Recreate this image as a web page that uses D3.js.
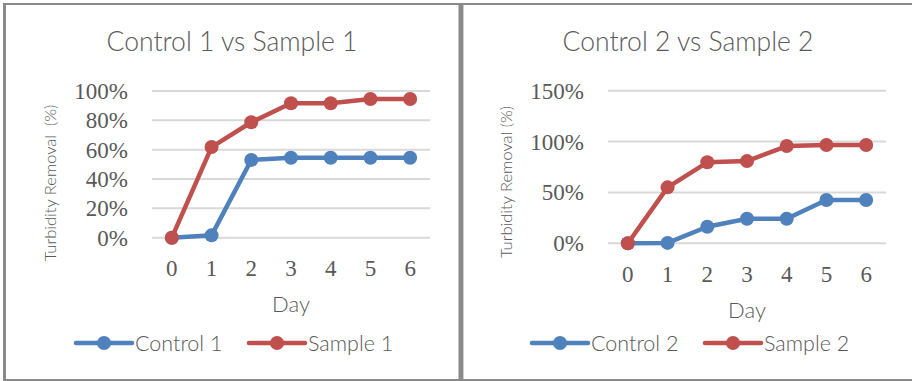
<!DOCTYPE html>
<html><head><meta charset="utf-8">
<script src="https://cdn.jsdelivr.net/npm/d3@7"></script>
<style>body{margin:0;background:#fff}svg{display:block}</style>
</head><body>
<script>
const days = [0,1,2,3,4,5,6];
const control1 = [0, 0.016, 0.53, 0.545, 0.545, 0.545, 0.545];
const sample1  = [0, 0.618, 0.787, 0.916, 0.916, 0.945, 0.945];
const control2 = [0, 0.004, 0.163, 0.242, 0.242, 0.425, 0.425];
const sample2  = [0, 0.55, 0.796, 0.808, 0.956, 0.966, 0.966];
const ticks1 = [0,0.2,0.4,0.6,0.8,1.0];
const ticks2 = [0,0.5,1.0,1.5];
const titles = ["Control 1 vs Sample 1","Control 2 vs Sample 2"];
const yLabels = ["Turbidity Removal  (%)","Turbidity Removal (%)"];
const legendNames = [["Control 1","Sample 1"],["Control 2","Sample 2"]];
const xLabel = "Day";

const W=912,H=381;
const svg=d3.select("body").append("svg").attr("width",W).attr("height",H);
const blue="#4F81BD", red="#C0504D", txt="#595959", grid="#D9D9D9", frame="#8A8A8A";

// frame
svg.append("line").attr("x1",3).attr("x2",W).attr("y1",4).attr("y2",4).attr("stroke",frame).attr("stroke-width",2);
svg.append("line").attr("x1",4.5).attr("x2",4.5).attr("y1",3).attr("y2",381).attr("stroke",frame).attr("stroke-width",3);
svg.append("line").attr("x1",3).attr("x2",W).attr("y1",380).attr("y2",380).attr("stroke",frame).attr("stroke-width",2);
svg.append("rect").attr("x",458.5).attr("y",3).attr("width",4.5).attr("height",378).attr("fill",frame);
svg.append("line").attr("x1",463.5).attr("x2",463.5).attr("y1",5).attr("y2",379).attr("stroke","#d0d0d0").attr("stroke-width",1);

const panels=[
 {dx:0, series:[control1,sample1], ticks:ticks1, ymax:1.0, y0:237.7, y1:91, fmt:d=>Math.round(d*100)+"%", xTickY:276, dayY:312, yl:183},
 {dx:456, series:[control2,sample2], ticks:ticks2, ymax:1.5, y0:243.3, y1:90.7, fmt:d=>Math.round(d*100)+"%", xTickY:282, dayY:318, yl:182}
];

panels.forEach((p,i)=>{
  const g=svg.append("g").attr("transform",`translate(${p.dx},0)`);
  const x=d3.scalePoint().domain(days).range([152,430]).padding(0.5);
  const y=d3.scaleLinear().domain([0,p.ymax]).range([p.y0,p.y1]);
  // title
  g.append("text").attr("x",232).attr("y",51).attr("text-anchor","middle")
   .attr("font-family","Lato, 'Open Sans', sans-serif").attr("font-weight",300).attr("font-size",26.5).attr("fill",txt).text(titles[i]);
  // grid
  g.selectAll(".grid").data(p.ticks).join("line")
   .attr("x1",152).attr("x2",430).attr("y1",d=>y(d)).attr("y2",d=>y(d))
   .attr("stroke",grid).attr("stroke-width",2);
  // y tick labels
  g.selectAll(".yt").data(p.ticks).join("text")
   .attr("x",128).attr("y",d=>y(d)).attr("dy","0.35em").attr("text-anchor","end")
   .attr("font-family","'Liberation Serif', serif").attr("font-size",23).attr("fill",txt).text(p.fmt);
  // x tick labels
  g.selectAll(".xt").data(days).join("text")
   .attr("x",d=>x(d)).attr("y",p.xTickY).attr("text-anchor","middle")
   .attr("font-family","'Liberation Serif', serif").attr("font-size",23).attr("fill",txt).text(d=>d);
  // axis titles
  g.append("text").attr("x",291).attr("y",p.dayY).attr("text-anchor","middle")
   .attr("font-family","Lato, sans-serif").attr("font-weight",300).attr("font-size",22).attr("fill",txt).text(xLabel);
  g.append("text").attr("transform",`translate(56,${p.yl}) rotate(-90)`).attr("text-anchor","middle")
   .attr("font-family","Lato, sans-serif").attr("font-weight",300).attr("font-size",16.5).attr("fill",txt)
   .style("white-space","pre").text(yLabels[i]);
  // series
  const colors=[blue,red];
  const line=d3.line().x((d,k)=>x(days[k])).y(d=>y(d));
  p.series.forEach((s,j)=>{
    g.append("path").datum(s).attr("d",line).attr("fill","none").attr("stroke",colors[j])
     .attr("stroke-width",4.5).attr("stroke-linejoin","round");
    g.selectAll(".m"+j).data(s).join("circle")
     .attr("cx",(d,k)=>x(days[k])).attr("cy",d=>y(d)).attr("r",7).attr("fill",colors[j]);
  });
  // legend
  const lx=[[76,132,104,135],[249,305,277,308]];
  lx.forEach((L,j)=>{
    g.append("line").attr("x1",L[0]).attr("x2",L[1]).attr("y1",343).attr("y2",343)
     .attr("stroke",colors[j]).attr("stroke-width",4.5).attr("stroke-linecap","round");
    g.append("circle").attr("cx",L[2]).attr("cy",343).attr("r",7).attr("fill",colors[j]);
    g.append("text").attr("x",L[3]).attr("y",343).attr("dy","0.35em")
     .attr("font-family","Lato, sans-serif").attr("font-weight",300).attr("font-size",21.5).attr("fill",txt).text(legendNames[i][j]);
  });
});
</script>
</body></html>
